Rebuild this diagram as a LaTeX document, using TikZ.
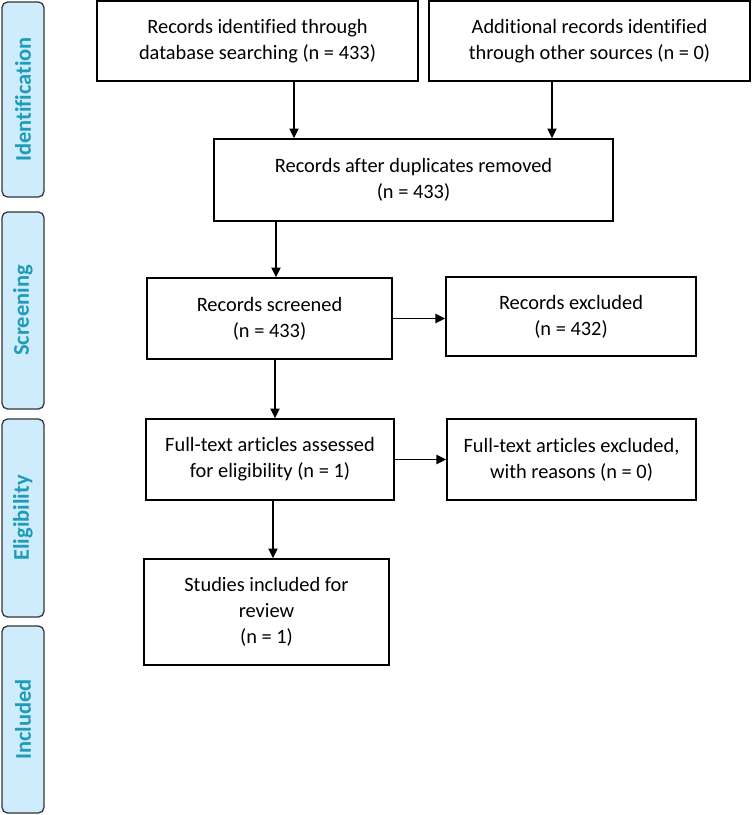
\documentclass[tikz,border=0pt]{standalone}
\usepackage{fontspec}
\setmainfont{Carlito}[Ligatures=NoCommon]
\usetikzlibrary{arrows.meta}
\definecolor{phasefill}{RGB}{206,236,252}
\definecolor{phasetext}{RGB}{30,156,186}

\begin{document}
\begin{tikzpicture}[x=0.025cm,y=-0.025cm,
	box/.style={draw,line width=0.9pt,align=center,inner sep=0pt,font=\fontsize{14.5}{18.4}\selectfont},
	phase/.style={draw=black!80,fill=phasefill,rounded corners=4pt,line width=0.9pt,minimum height=1.05cm,inner sep=0pt,text=phasetext,font=\bfseries\fontsize{16}{18}\selectfont,rotate=90},
	arr/.style={line width=1.3pt,-{Triangle[length=7pt,width=6.5pt]}}]
	\useasboundingbox (0,0) rectangle (751,815);
	\node[phase,minimum width=4.875cm] (ph1) at (23,99.5) {Identification};
	\node[phase,minimum width=4.925cm] (ph2) at (23,310.5) {Screening};
	\node[phase,minimum width=4.95cm] (ph3) at (23,518) {Eligibility};
	\node[phase,minimum width=4.675cm] (ph4) at (23,719.5) {Included};
	\node[box,minimum width=8.025cm,minimum height=2cm] (dbrec) at (257.5,41) {Records identified through\\database searching (n = 433)};
	\node[box,minimum width=8.025cm,minimum height=2cm] (otherrec) at (589.5,41) {Additional records identified\\through other sources (n = 0)};
	\node[box,minimum width=9.975cm,minimum height=2.05cm] (dedup) at (413.5,180) {Records after duplicates removed\\(n = 433)};
	\node[box,minimum width=6.125cm,minimum height=2.025cm] (screened) at (269.5,318.5) {Records screened\\(n = 433)};
	\node[box,minimum width=6.25cm,minimum height=1.975cm] (excl) at (571,316.5) {Records excluded\\(n = 432)};
	\node[box,minimum width=6.2cm,minimum height=2.025cm] (fulltext) at (270,459.5) {Full-text articles assessed\\for eligibility (n = 1)};
	\node[box,minimum width=6.225cm,minimum height=2.025cm] (ftexcl) at (571.5,459.5) {Full-text articles excluded,\\with reasons (n = 0)};
	\node[box,minimum width=6.125cm,minimum height=2.65cm] (incl) at (266.5,612) {Studies included for\\review\\(n = 1)};
	\coordinate (c1) at (294,0);
	\coordinate (c2) at (552,0);
	\coordinate (c3) at (276,0);
	\coordinate (c4) at (275,0);
	\coordinate (c5) at (273,0);
	\draw[arr] (c1 |- dbrec.south) -- (c1 |- dedup.north);
	\draw[arr] (c2 |- otherrec.south) -- (c2 |- dedup.north);
	\draw[arr] (c3 |- dedup.south) -- (c3 |- screened.north);
	\draw[arr] (screened.east) -- (screened.east -| excl.west);
	\draw[arr] (c4 |- screened.south) -- (c4 |- fulltext.north);
	\draw[arr] (fulltext.east) -- (fulltext.east -| ftexcl.west);
	\draw[arr] (c5 |- fulltext.south) -- (c5 |- incl.north);
\end{tikzpicture}
\end{document}
